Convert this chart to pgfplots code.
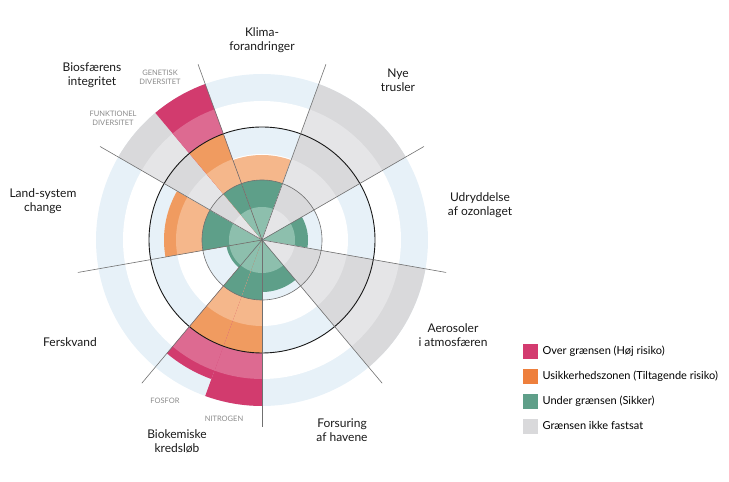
\documentclass[border=0pt]{standalone}
\usepackage{pgfplots}
\pgfplotsset{compat=1.18}
\usepackage{fontspec}
\setmainfont{Lato}
\definecolor{bgBlue}{HTML}{E7F1F8}
\definecolor{gD}{HTML}{5E9F89}
\definecolor{gL}{HTML}{8DBFAD}
\definecolor{oD}{HTML}{F09B60}
\definecolor{oL}{HTML}{F5B78B}
\definecolor{pD}{HTML}{D23B6E}
\definecolor{pL}{HTML}{DD6A91}
\definecolor{yD}{HTML}{D9D9DB}
\definecolor{yL}{HTML}{E5E5E7}
\definecolor{lineGray}{HTML}{707070}
\definecolor{smallGray}{HTML}{8A8A8A}
\definecolor{legPink}{HTML}{D33B6F}
\definecolor{legOrange}{HTML}{EE7F3C}
\definecolor{legGreen}{HTML}{5F9F89}
\definecolor{legGray}{HTML}{D9D9DB}
% pie slice from angle #1 to #2 (degrees), radius #3, colour #4
\newcommand\pie[4]{%
  \pgfmathtruncatemacro\nseg{max(1,ceil(abs((#2)-(#1))/2))}%
  \pgfmathsetmacro\dstep{((#2)-(#1))/\nseg}%
  \gdef\pts{(#1,0)}%
  \foreach \i in {0,...,\nseg}{\pgfmathsetmacro\a{(#1)+\dstep*\i}\xdef\pts{\pts(\a,#3)}}%
  \edef\doplot{\noexpand\addplot[fill=#4,draw=none,forget plot,data cs=polar] coordinates {\pts};}%
  \doplot}
% circle of radius #1 with style #2
\newcommand\ring[2]{%
  \gdef\pts{}%
  \foreach \i in {0,...,180}{\pgfmathsetmacro\a{2*\i}\xdef\pts{\pts(\a,#1)}}%
  \edef\doplot{\noexpand\addplot[#2,forget plot,data cs=polar] coordinates {\pts};}%
  \doplot}
\begin{document}
\begin{tikzpicture}
\begin{axis}[x=1pt, y=1pt, xmin=-262, xmax=467, ymin=-242, ymax=240,
  hide axis, clip=false,
  legend style={at={(axis cs:261,-104)}, anchor=north west, draw=none, fill=none,
    font=\fontsize{11}{13}\selectfont, row sep=10.5pt, inner sep=0pt, column sep=3pt,
    cells={anchor=west}},
  ]
% background rings
\pie{0}{360}{166}{bgBlue}
\pie{0}{360}{139}{white}
\pie{0}{360}{113}{bgBlue}
\pie{0}{360}{86}{white}
\pie{0}{360}{60}{bgBlue}
\pie{0}{360}{33}{white}
% Klimaforandringer
\pie{70}{110}{85}{oL}\pie{70}{110}{60}{gD}\pie{70}{110}{33}{gL}
% Nye trusler (not quantified)
\pie{30}{70}{166}{yD}\pie{30}{70}{139}{yL}\pie{30}{70}{113}{yD}\pie{30}{70}{86}{yL}\pie{30}{70}{60}{yD}\pie{30}{70}{33}{yL}
% Ozone
\pie{-10}{30}{46}{gD}\pie{-10}{30}{33}{gL}
% Aerosoler (not quantified)
\pie{-50}{-10}{166}{yD}\pie{-50}{-10}{139}{yL}\pie{-50}{-10}{113}{yD}\pie{-50}{-10}{86}{yL}\pie{-50}{-10}{60}{yD}\pie{-50}{-10}{33}{yL}
% Forsuring af havene
\pie{-90}{-50}{52}{gD}\pie{-90}{-50}{33}{gL}
% Nitrogen
\pie{-110}{-90}{166}{pD}\pie{-110}{-90}{139}{pL}\pie{-110}{-90}{113}{oD}\pie{-110}{-90}{86}{oL}\pie{-110}{-90}{60}{gD}\pie{-110}{-90}{33}{gL}
% Fosfor
\pie{-130}{-110}{148}{pD}\pie{-130}{-110}{139}{pL}\pie{-130}{-110}{113}{oD}\pie{-130}{-110}{86}{oL}\pie{-130}{-110}{60}{gD}\pie{-130}{-110}{33}{gL}
% Ferskvand
\pie{190}{230}{36}{gD}\pie{190}{230}{33}{gL}
% Land-system change
\pie{150}{190}{98}{oD}\pie{150}{190}{86}{oL}\pie{150}{190}{60}{gD}\pie{150}{190}{33}{gL}
% Funktionel diversitet (not quantified)
\pie{130}{150}{166}{yD}\pie{130}{150}{139}{yL}\pie{130}{150}{113}{yD}\pie{130}{150}{86}{yL}\pie{130}{150}{60}{yD}\pie{130}{150}{33}{yL}
% Genetisk diversitet
\pie{110}{130}{166}{pD}\pie{110}{130}{139}{pL}\pie{110}{130}{113}{oD}\pie{110}{130}{86}{oL}\pie{110}{130}{60}{gD}\pie{110}{130}{33}{gL}
% boundary circles
\ring{60}{draw=lineGray, line width=0.6pt}
\ring{113}{draw=black!90, line width=0.9pt}
% radial lines
\addplot[draw=lineGray, line width=0.6pt, forget plot, data cs=polar] coordinates {(110,0) (110,187)};
\addplot[draw=lineGray, line width=0.6pt, forget plot, data cs=polar] coordinates {(70,0) (70,187)};
\addplot[draw=lineGray, line width=0.6pt, forget plot, data cs=polar] coordinates {(30,0) (30,187)};
\addplot[draw=lineGray, line width=0.6pt, forget plot, data cs=polar] coordinates {(-10,0) (-10,187)};
\addplot[draw=lineGray, line width=0.6pt, forget plot, data cs=polar] coordinates {(-50,0) (-50,187)};
\addplot[draw=lineGray, line width=0.6pt, forget plot, data cs=polar] coordinates {(-90,0) (-90,187)};
\addplot[draw=lineGray, line width=0.6pt, forget plot, data cs=polar] coordinates {(-130,0) (-130,187)};
\addplot[draw=lineGray, line width=0.6pt, forget plot, data cs=polar] coordinates {(190,0) (190,187)};
\addplot[draw=lineGray, line width=0.6pt, forget plot, data cs=polar] coordinates {(150,0) (150,187)};
% legend
\addlegendimage{legend image code/.code={\fill[legPink] (0pt,-7pt) rectangle (14pt,7pt);}}
\addlegendentry{Over grænsen (Høj risiko)}
\addlegendimage{legend image code/.code={\fill[legOrange] (0pt,-7pt) rectangle (14pt,7pt);}}
\addlegendentry{Usikkerhedszonen (Tiltagende risiko)}
\addlegendimage{legend image code/.code={\fill[legGreen] (0pt,-7pt) rectangle (14pt,7pt);}}
\addlegendentry{Under grænsen (Sikker)}
\addlegendimage{legend image code/.code={\fill[legGray] (0pt,-7pt) rectangle (14pt,7pt);}}
\addlegendentry{Grænsen ikke fastsat}
% labels
\begin{scope}[every node/.style={align=center, font=\fontsize{12}{14}\selectfont, text=black!90}]
\node at (axis cs:0,200) {Klima-\\forandringer};
\node at (axis cs:136,160) {Nye\\trusler};
\node at (axis cs:218,35) {Udryddelse\\af ozonlaget};
\node at (axis cs:191,-95) {Aerosoler\\i atmosfæren};
\node at (axis cs:80,-190) {Forsuring\\af havene};
\node at (axis cs:-85,-201) {Biokemiske\\kredsløb};
\node at (axis cs:-192,-102) {Ferskvand};
\node at (axis cs:-219,39) {Land-system\\change};
\node at (axis cs:-170,165) {Biosfærens\\integritet};
\end{scope}
\begin{scope}[every node/.style={align=center, font=\fontsize{7.5}{9}\selectfont, text=smallGray}]
\node at (axis cs:-102,163) {GENETISK\\DIVERSITET};
\node at (axis cs:-149,122) {FUNKTIONEL\\DIVERSITET};
\node at (axis cs:-97,-161) {FOSFOR};
\node at (axis cs:-38,-179) {NITROGEN};
\end{scope}
\end{axis}
\pgfresetboundingbox
\path[use as bounding box] (current axis.south west) rectangle (current axis.north east);
\end{tikzpicture}
\end{document}
